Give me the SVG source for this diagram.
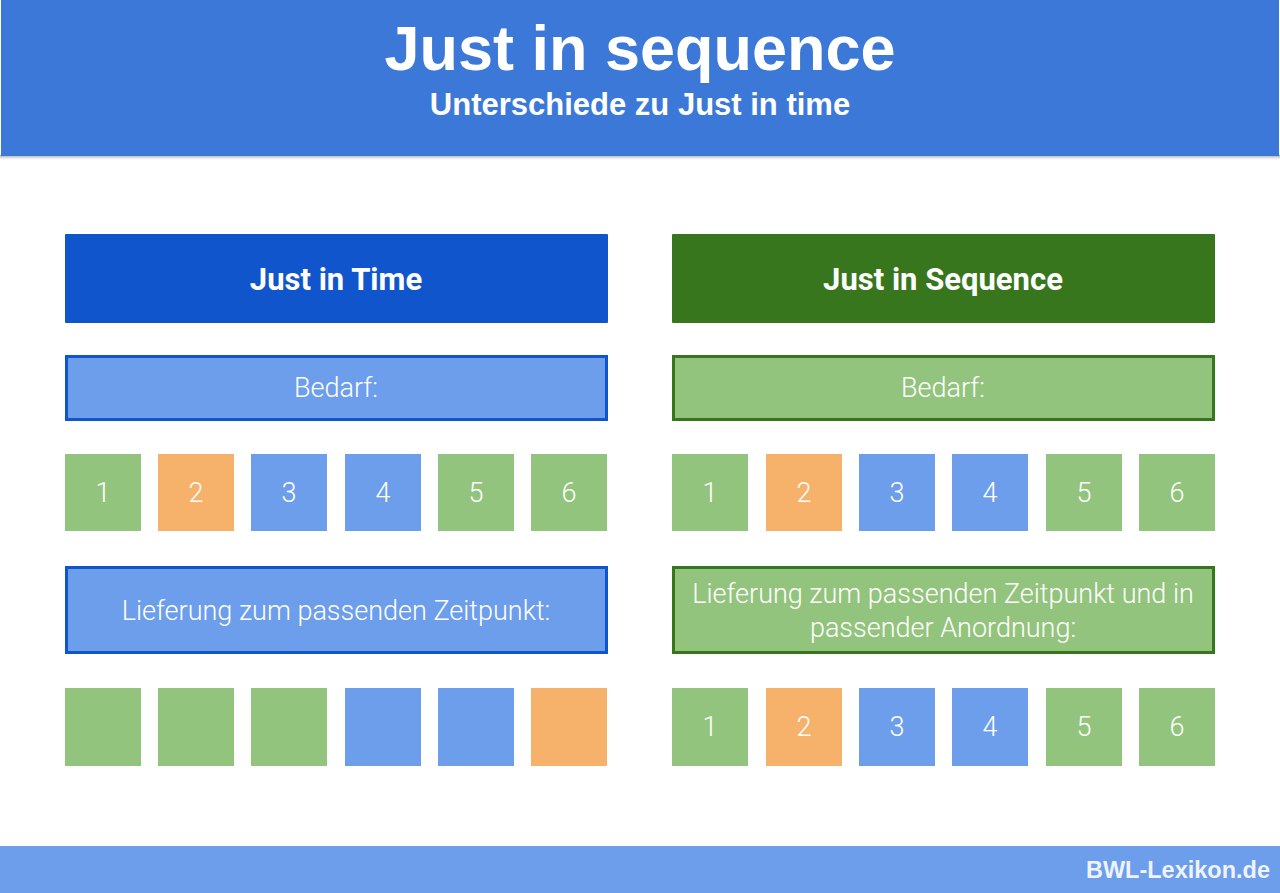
<svg xmlns="http://www.w3.org/2000/svg" width="1280" height="893" viewBox="0 0 1280 893">
<style>
.ttl{font-family:"Liberation Sans",Arial,sans-serif;font-weight:bold;fill:#fff;text-anchor:middle}
.hd{font-family:Roboto,"Noto Sans",sans-serif;font-weight:bold;font-size:31px;fill:#fff;text-anchor:middle}
.lb{font-family:Roboto,"Noto Sans",sans-serif;font-weight:300;font-size:27px;fill:#fff;text-anchor:middle}
.g{fill:#93c47d}.o{fill:#f6b26b}.b{fill:#6d9eeb}
.bb{fill:#6d9eeb;stroke:#1155cc;stroke-width:3}
.gb{fill:#93c47d;stroke:#38761d;stroke-width:3}
</style>
<defs>
<linearGradient id="sh" x1="0" y1="0" x2="0" y2="1"><stop offset="0" stop-color="#999"/><stop offset="1" stop-color="#fff" stop-opacity="0"/></linearGradient>
</defs>
<rect width="1280" height="893" fill="#fff"/>
<g id="header">
<rect x="0" y="155" width="1280" height="6" fill="url(#sh)"/>
<rect x="1" y="0" width="1278" height="156" fill="#3c78d8"/>
<text class="ttl" x="640" y="70" font-size="63">Just in sequence</text>
<text class="ttl" x="640" y="115" font-size="31">Unterschiede zu Just in time</text>
</g>
<g id="jit-head"><rect x="65" y="234" width="543" height="89" fill="#1155cc" rx="1"/><text class="hd" x="336" y="290">Just in Time</text></g>
<g id="jis-head"><rect x="672" y="234" width="543" height="89" fill="#38761d" rx="1"/><text class="hd" x="943" y="290">Just in Sequence</text></g>
<g id="jit-bedarf"><rect class="bb" x="66.5" y="356.5" width="540" height="63"/><text class="lb" x="336" y="397">Bedarf:</text></g>
<g id="jis-bedarf"><rect class="gb" x="673.5" y="356.5" width="540" height="63"/><text class="lb" x="943" y="397">Bedarf:</text></g>
<g id="jit-demand">
<rect class="g" x="65" y="454" width="76" height="77"/><text class="lb" x="103" y="502">1</text>
<rect class="o" x="158" y="454" width="76" height="77"/><text class="lb" x="196" y="502">2</text>
<rect class="b" x="251" y="454" width="76" height="77"/><text class="lb" x="289" y="502">3</text>
<rect class="b" x="345" y="454" width="76" height="77"/><text class="lb" x="383" y="502">4</text>
<rect class="g" x="438" y="454" width="76" height="77"/><text class="lb" x="476" y="502">5</text>
<rect class="g" x="531" y="454" width="76" height="77"/><text class="lb" x="569" y="502">6</text>
</g>
<g id="jis-demand">
<rect class="g" x="672" y="454" width="76" height="77"/><text class="lb" x="710" y="502">1</text>
<rect class="o" x="766" y="454" width="76" height="77"/><text class="lb" x="804" y="502">2</text>
<rect class="b" x="859" y="454" width="76" height="77"/><text class="lb" x="897" y="502">3</text>
<rect class="b" x="952" y="454" width="76" height="77"/><text class="lb" x="990" y="502">4</text>
<rect class="g" x="1046" y="454" width="76" height="77"/><text class="lb" x="1084" y="502">5</text>
<rect class="g" x="1139" y="454" width="76" height="77"/><text class="lb" x="1177" y="502">6</text>
</g>
<g id="jit-delivery"><rect class="bb" x="66.5" y="567.5" width="540" height="85"/><text class="lb" x="336" y="620">Lieferung zum passenden Zeitpunkt:</text></g>
<g id="jis-delivery"><rect class="gb" x="673.5" y="567.5" width="540" height="85"/><text class="lb" x="943" y="603">Lieferung zum passenden Zeitpunkt und in</text><text class="lb" x="943" y="637">passender Anordnung:</text></g>
<g id="jit-supply">
<rect class="g" x="65" y="688" width="76" height="78"/>
<rect class="g" x="158" y="688" width="76" height="78"/>
<rect class="g" x="251" y="688" width="76" height="78"/>
<rect class="b" x="345" y="688" width="76" height="78"/>
<rect class="b" x="438" y="688" width="76" height="78"/>
<rect class="o" x="531" y="688" width="76" height="78"/>
</g>
<g id="jis-supply">
<rect class="g" x="672" y="688" width="76" height="78"/><text class="lb" x="710" y="736">1</text>
<rect class="o" x="766" y="688" width="76" height="78"/><text class="lb" x="804" y="736">2</text>
<rect class="b" x="859" y="688" width="76" height="78"/><text class="lb" x="897" y="736">3</text>
<rect class="b" x="952" y="688" width="76" height="78"/><text class="lb" x="990" y="736">4</text>
<rect class="g" x="1046" y="688" width="76" height="78"/><text class="lb" x="1084" y="736">5</text>
<rect class="g" x="1139" y="688" width="76" height="78"/><text class="lb" x="1177" y="736">6</text>
</g>
<g id="connectors"/>
<g id="footer">
<rect x="0" y="846" width="1280" height="47" fill="#6d9eeb"/>
<text x="1270" y="878" font-family="Liberation Sans,Arial,sans-serif" font-weight="bold" font-size="23.5" fill="#eef3fc" text-anchor="end">BWL-Lexikon.de</text>
</g>
</svg>
